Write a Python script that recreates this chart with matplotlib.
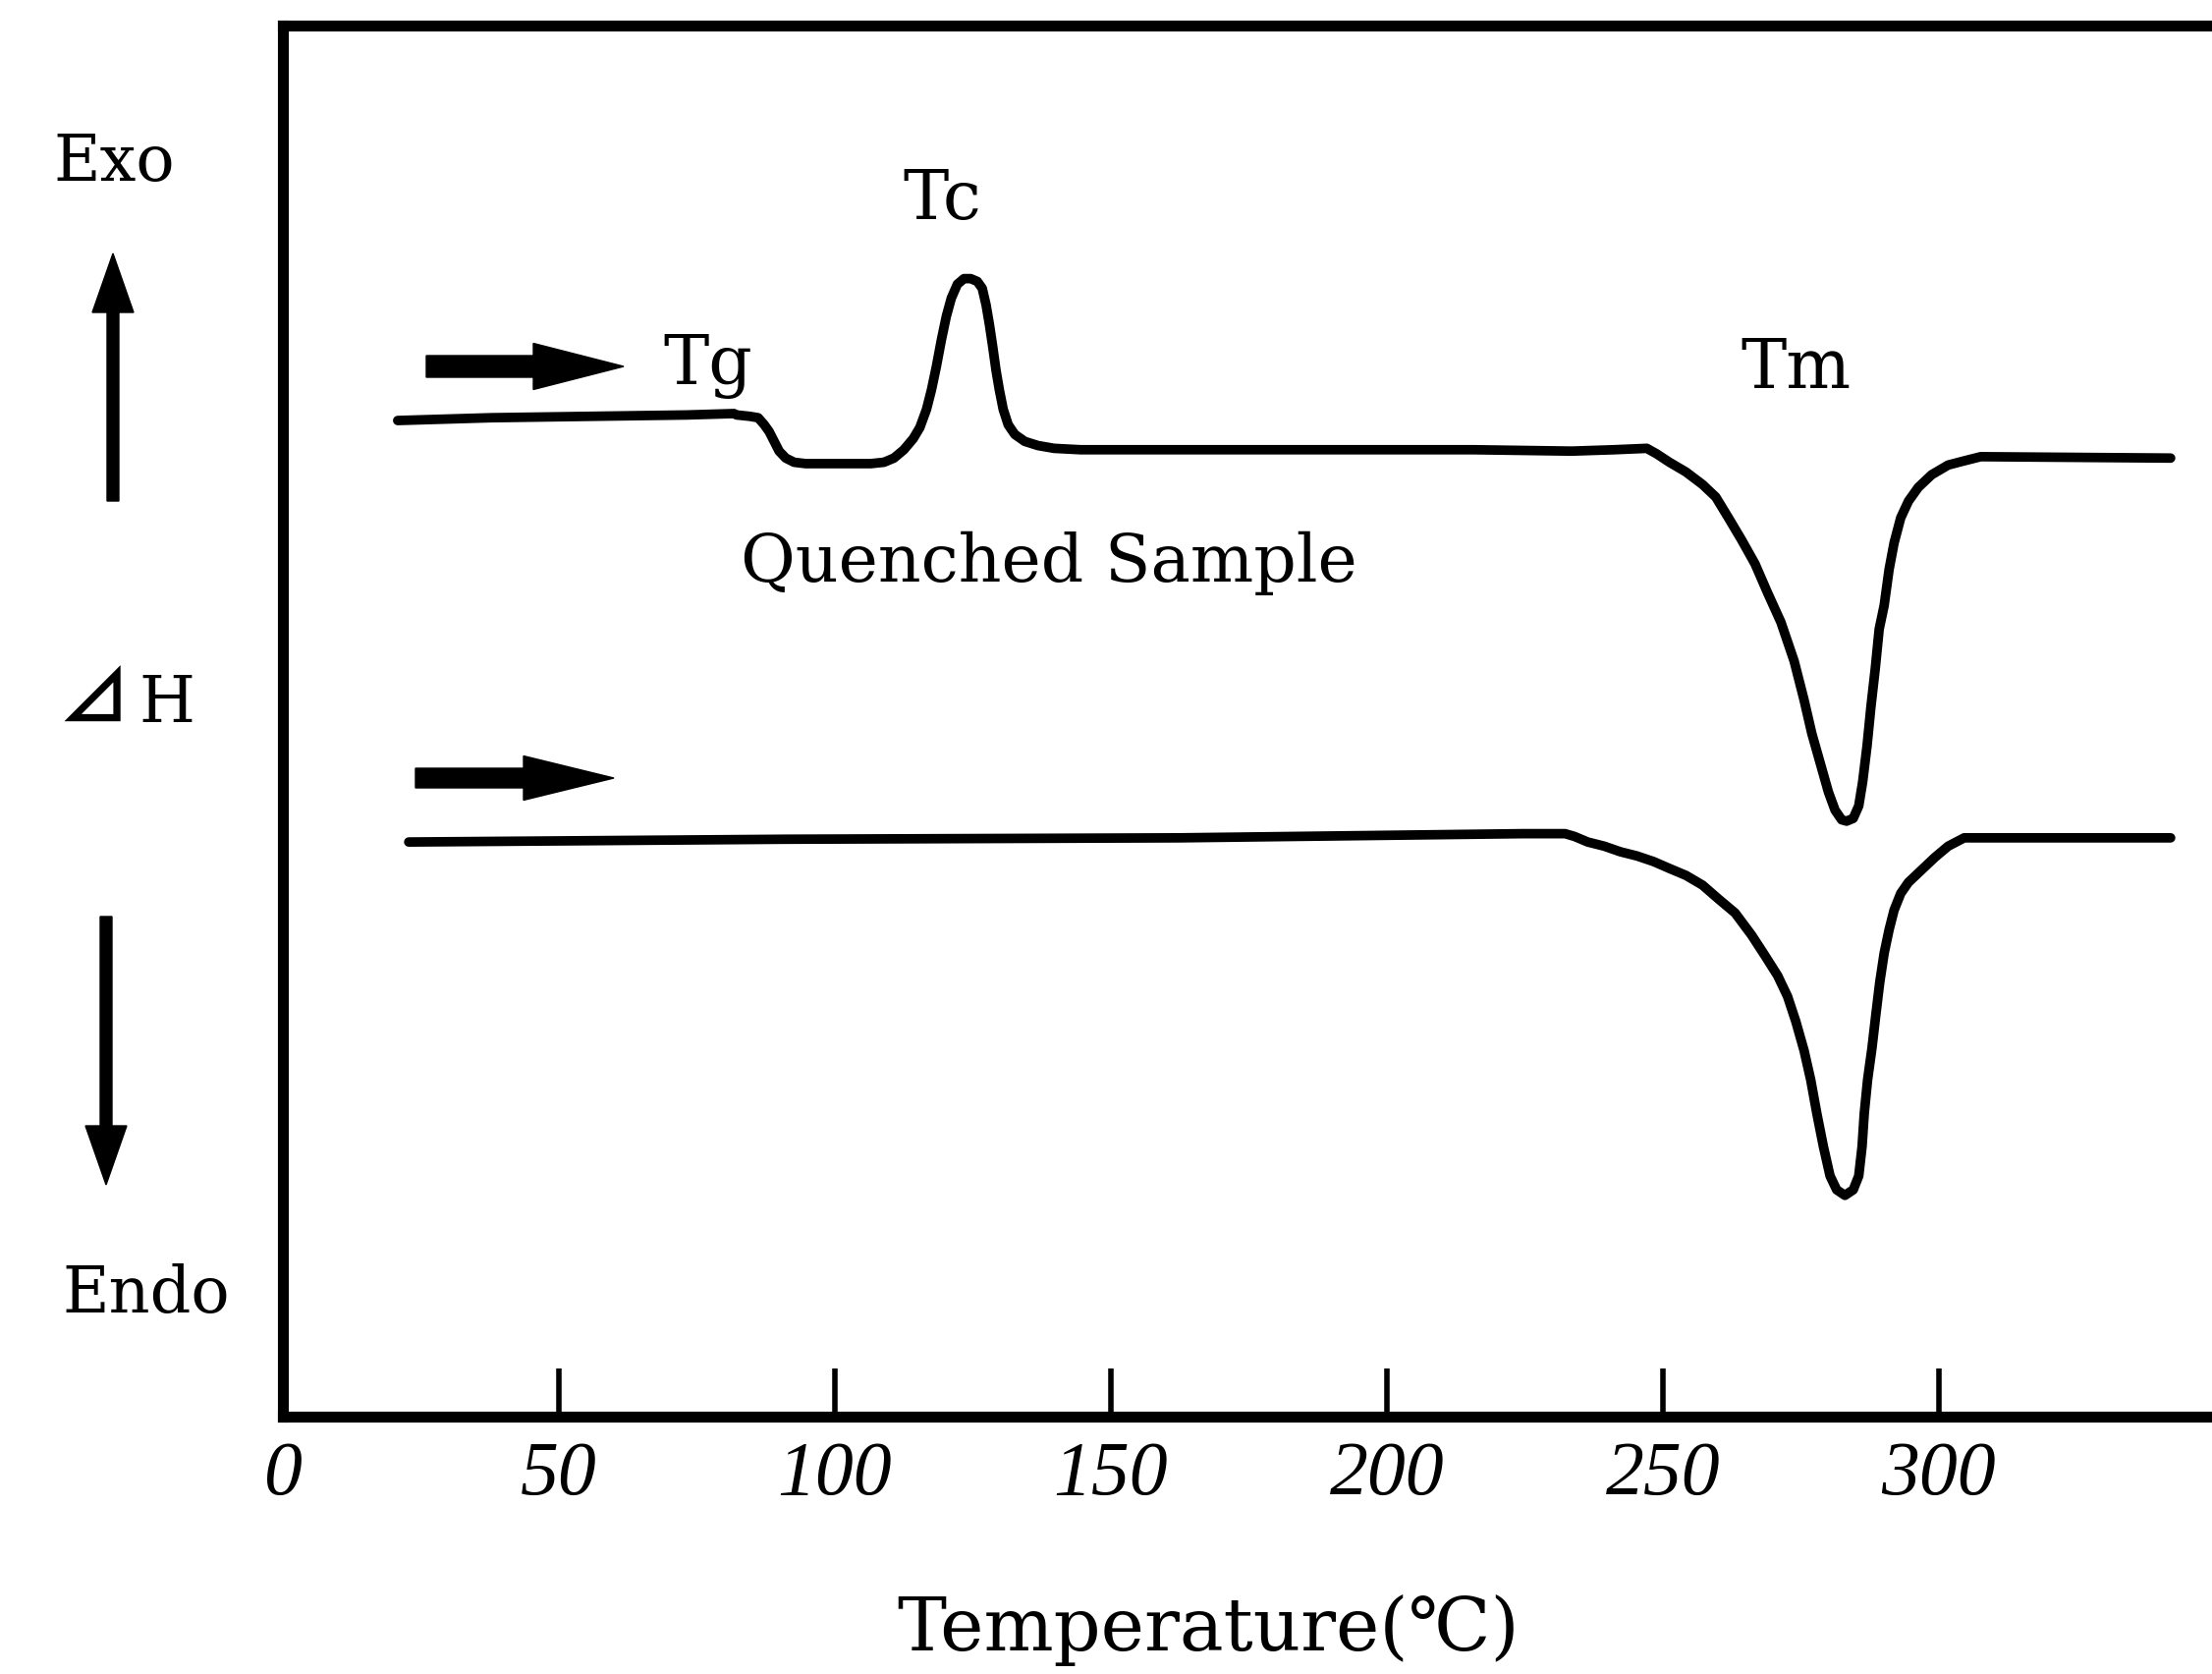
import matplotlib
matplotlib.use("Agg")
import matplotlib.pyplot as plt
from matplotlib.patches import FancyArrow

# DSC traces (temperature in C, heat flow in arbitrary units)
quenched_temp = [20.8, 37.7, 55.5, 73.3, 81.7, 82.2, 84.6, 86.1, 87.2, 88.1, 89.0, 89.9,
                 91.1, 92.6, 94.7, 100.0, 106.5, 108.9, 110.7, 112.5, 114.2, 115.4, 116.6,
                 117.5, 118.4, 119.3, 120.2, 121.1, 122.2, 123.4, 124.6, 125.8, 126.7,
                 127.4, 128.0, 128.6, 129.2, 129.8, 130.5, 131.4, 132.6, 134.4, 136.8,
                 139.7, 144.5, 180.1, 215.7, 233.5, 241.2, 247.1, 248.9, 251.2,
                 254.2, 257.2, 259.6, 261.9, 264.3, 266.7, 269.0, 271.4, 273.8, 275.6,
                 277.0, 278.5, 280.0, 281.2, 282.4, 283.3, 284.5, 285.5, 286.2, 287.0,
                 287.7, 288.5, 289.2, 290.1, 291.0, 291.9, 293.1, 294.5, 296.3, 298.7,
                 301.7, 304.6, 307.6, 342.0]
quenched_heat = [71.6, 71.8, 71.9, 72.0, 72.1, 72.0, 71.9, 71.8, 71.3, 70.8, 70.1, 69.4,
                 68.9, 68.6, 68.5, 68.5, 68.5, 68.6, 68.9, 69.5, 70.3, 71.1, 72.4,
                 73.8, 75.5, 77.4, 79.1, 80.4, 81.4, 81.8, 81.8, 81.6, 81.1,
                 79.9, 78.5, 76.9, 75.2, 73.8, 72.4, 71.3, 70.6, 70.1, 69.8,
                 69.6, 69.5, 69.5, 69.5, 69.4, 69.5, 69.6, 69.2, 68.6,
                 67.9, 67.0, 66.1, 64.6, 63.0, 61.3, 59.2, 57.1, 54.3, 51.5,
                 49.1, 47.0, 44.9, 43.6, 42.9, 42.8, 43.0, 43.9, 45.6, 48.2,
                 51.0, 53.8, 56.6, 58.3, 60.9, 62.8, 64.6, 65.8, 66.8, 67.7,
                 68.4, 68.7, 69.0, 68.9]

second_temp = [22.8, 91.1, 162.3, 224.6, 232.3, 234.0, 236.4, 239.4, 242.3, 245.3, 248.3,
               251.2, 254.2, 257.2, 260.1, 263.1, 266.1, 268.4, 270.8, 272.6, 274.1,
               275.6, 276.8, 277.9, 279.1, 280.3, 281.5, 283.0, 284.5, 285.5, 286.1,
               286.5, 287.1, 287.9, 288.6, 289.3, 290.1, 291.0, 291.9, 293.1, 294.5,
               296.9, 299.3, 301.7, 304.6, 342.0]
second_heat = [41.3, 41.5, 41.6, 41.9, 41.9, 41.7, 41.3, 41.0, 40.6, 40.3, 39.9,
               39.4, 38.9, 38.2, 37.2, 36.2, 34.6, 33.2, 31.7, 30.2, 28.4,
               26.3, 24.2, 21.8, 19.4, 17.3, 16.3, 15.9, 16.3, 17.3, 19.4,
               21.8, 24.2, 26.5, 28.9, 31.2, 33.3, 35.0, 36.4, 37.6, 38.4,
               39.3, 40.2, 41.0, 41.6, 41.6]

temp_ticks = [0, 50, 100, 150, 200, 250, 300]

serif = ['DejaVu Serif', 'DejaVu Sans', 'Noto Sans CJK JP']

fig = plt.figure(figsize=(22.52, 17.04), dpi=100)
ax = fig.add_axes([0.1279, 0.1538, 0.8721, 0.831])

ax.plot(quenched_temp, quenched_heat, color='black', lw=7,
        solid_capstyle='round', solid_joinstyle='round')
ax.plot(second_temp, second_heat, color='black', lw=7,
        solid_capstyle='round', solid_joinstyle='round')

ax.set_xlim(0, 349.5)
ax.set_ylim(0, 100)
ax.set_xticks(temp_ticks)
ax.set_xticklabels([str(t) for t in temp_ticks], family='Liberation Serif',
                   fontstyle='italic', fontsize=56)
ax.set_yticks([])
ax.tick_params(axis='x', direction='in', length=35, width=4, pad=18, top=False)
ax.spines['right'].set_visible(False)
for s in ['left', 'top', 'bottom']:
    ax.spines[s].set_linewidth(8)

# peak labels
ax.text(112.3, 86.1, 'Tc', family=serif, fontsize=50, va='baseline', ha='left')
ax.text(68.9, 74.2, 'Tg', family=serif, fontsize=50, va='baseline', ha='left')
ax.text(264.1, 73.9, 'Tm', family=serif, fontsize=50, va='baseline', ha='left')
ax.text(82.9, 60.0, 'Quenched Sample', family=serif, fontsize=49, va='baseline', ha='left')

# left side labels
W, H = 2252, 1704
fig.text(116 / W, 1 - 184 / H, 'Exo', family=serif, fontsize=47, ha='center', va='baseline')
fig.text(149 / W, 1 - 1336 / H, 'Endo', family=serif, fontsize=47, ha='center', va='baseline')
fig.text(95 / W, 1 - 735 / H, '⊿', family=['Noto Sans CJK JP', 'DejaVu Sans'],
         fontsize=52, fontweight='bold', ha='center', va='baseline')
fig.text(170 / W, 1 - 735 / H, 'H', family=serif, fontsize=47, ha='center', va='baseline')
fig.text(1230 / W, 1 - 1680 / H, 'Temperature(℃)', family=serif, fontsize=54,
         ha='center', va='baseline')

# arrows (in inches)
tr = fig.dpi_scale_trans
arrows = [
    (4.34, 13.31, 2.01, 0.0, 0.22, 0.47, 0.92),
    (4.23, 9.12, 2.02, 0.0, 0.20, 0.45, 0.92),
    (1.15, 11.94, 0.0, 2.52, 0.12, 0.42, 0.60),
    (1.08, 7.71, 0.0, -2.73, 0.12, 0.42, 0.60),
]
for x, y, dx, dy, w, hw, hl in arrows:
    fig.patches.append(FancyArrow(x, y, dx, dy, width=w, head_width=hw, head_length=hl,
                                  length_includes_head=True, color='black',
                                  transform=tr, figure=fig))

fig.savefig('out.png', dpi=100)
